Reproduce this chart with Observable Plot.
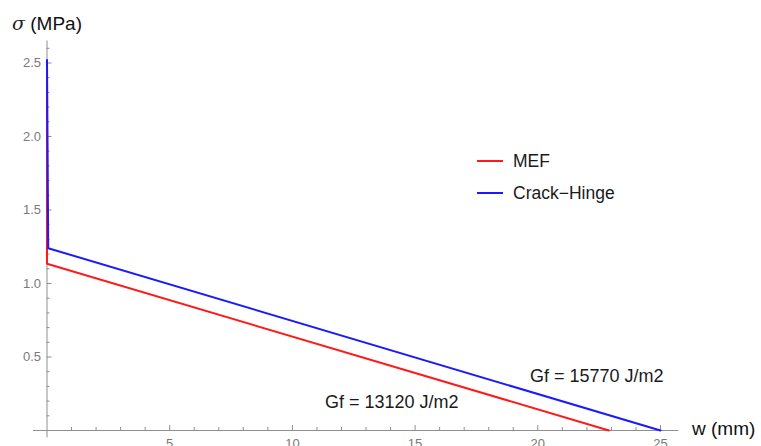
<!DOCTYPE html>
<html>
<head>
<meta charset="utf-8">
<script src="https://cdn.jsdelivr.net/npm/d3@7"></script>
<script src="https://cdn.jsdelivr.net/npm/@observablehq/plot@0.6"></script>
<style>
  html, body { margin: 0; padding: 0; background: #fff; }
  #wrap { position: relative; width: 761px; height: 446px; font-family: "Liberation Sans", Arial, sans-serif; }
  #wrap svg { position: absolute; left: 0; top: 0; }
  .ylab { position: absolute; left: 12px; top: 12px; font-size: 19px; color: #111; white-space: nowrap; }
  .ylab i { font-family: "DejaVu Serif", serif; color: #222; }
  .xlab { position: absolute; left: 692px; top: 418px; font-size: 19px; color: #111; white-space: nowrap; }
  .legend { position: absolute; left: 477px; top: 145px; font-size: 17.5px; color: #1a1a1a; }
  .legend div { display: flex; align-items: center; height: 32px; }
  .legend span.sw { display: inline-block; width: 26px; height: 2px; margin-right: 10px; }
</style>
</head>
<body>
<div id="wrap"></div>
<script>
// ---- data ----
const series = ["MEF", "Crack\u2212Hinge"];
const colors = ["#ff1a1a", "#1a1aff"];
const mefW = [0, 0, 22.9];
const mefS = [2.5, 1.134, 0];
const chW = [0, 0.05, 25];
const chS = [2.52, 1.24, 0];
const xTickLabels = [5, 10, 15, 20, 25];
const xMinorTicks = [1,2,3,4,6,7,8,9,11,12,13,14,16,17,18,19,21,22,23,24];
const yTickLabels = [0.5, 1.0, 1.5, 2.0, 2.5];
const yMinorTicks = [0.1,0.2,0.3,0.4,0.6,0.7,0.8,0.9,1.1,1.2,1.3,1.4,1.6,1.7,1.8,1.9,2.1,2.2,2.3,2.4,2.6];
const annotations = [
  {text: "Gf = 13120 J/m2", w: 14.05, s: 0.19},
  {text: "Gf = 15770 J/m2", w: 22.4, s: 0.37}
];
const xAxisExtent = [-0.55, 25.75];
const yAxisExtent = [-0.05, 2.65];

// ---- layout ----
const W = 761, H = 446;
const mL = 46.5, mR = 101, mT = 62.5, mB = 16;
const frameW = W - mL - mR, frameH = H - mT - mB;
const axisColor = "#8f8f8f";
const labelColor = "#7a7a7a";

const rows = [];
mefW.forEach((w, i) => rows.push({series: series[0], w, s: mefS[i]}));
chW.forEach((w, i) => rows.push({series: series[1], w, s: chS[i]}));

const chart = Plot.plot({
  width: W, height: H,
  marginLeft: mL, marginRight: mR, marginTop: mT, marginBottom: mB,
  x: {domain: [0, 25]},
  y: {domain: [0, 2.5]},
  color: {domain: series, range: colors},
  style: {fontFamily: "Liberation Sans, Arial, sans-serif", overflow: "visible"},
  marks: [
    Plot.ruleY([0], {x1: xAxisExtent[0], x2: xAxisExtent[1], stroke: axisColor, strokeWidth: 1}),
    Plot.ruleX([0], {y1: yAxisExtent[0], y2: yAxisExtent[1], stroke: axisColor, strokeWidth: 1}),
    Plot.tickX(xTickLabels, {x: d => d, insetTop: frameH - 5, stroke: axisColor}),
    Plot.tickX(xMinorTicks, {x: d => d, insetTop: frameH - 3, stroke: axisColor}),
    Plot.tickY(yTickLabels, {y: d => d, insetRight: frameW - 5, stroke: axisColor}),
    Plot.tickY(yMinorTicks, {y: d => d, insetRight: frameW - 3, stroke: axisColor}),
    Plot.axisX({ticks: xTickLabels, tickSize: 0, tickPadding: 8, fontSize: 13, fill: labelColor, label: null}),
    Plot.axisY({ticks: yTickLabels, tickSize: 0, tickPadding: 6, tickFormat: ".1f", fontSize: 13, fill: labelColor, label: null}),
    Plot.line(rows, {x: "w", y: "s", z: "series", stroke: "series", strokeWidth: 2}),
    Plot.text(annotations, {x: "w", y: "s", text: "text", fontSize: 18, fill: "#1a1a1a"})
  ]
});

const wrap = document.getElementById("wrap");
wrap.appendChild(chart);

const yl = document.createElement("div");
yl.className = "ylab";
yl.innerHTML = "<i>\u03c3</i> (MPa)";
wrap.appendChild(yl);

const xl = document.createElement("div");
xl.className = "xlab";
xl.textContent = "w (mm)";
wrap.appendChild(xl);

const lg = document.createElement("div");
lg.className = "legend";
series.forEach((s, i) => {
  const row = document.createElement("div");
  row.innerHTML = `<span class="sw" style="background:${colors[i]}"></span><span>${s}</span>`;
  lg.appendChild(row);
});
wrap.appendChild(lg);
</script>
</body>
</html>
